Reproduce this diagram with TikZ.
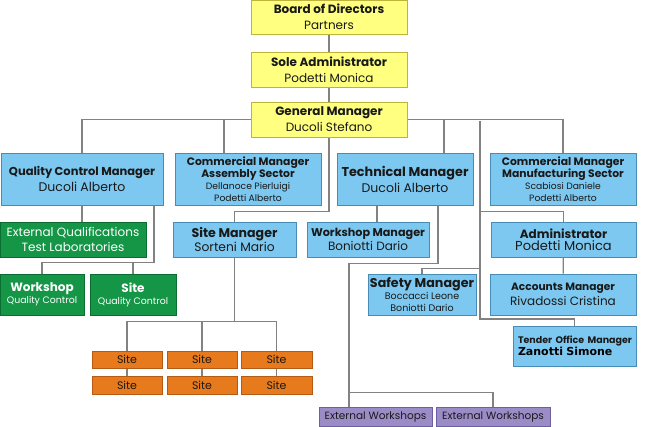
\documentclass[tikz,border=0pt]{standalone}
\usepackage{fontspec}
\setmainfont{Poppins}
\newfontfamily\zfont{DejaVu Sans}
\usetikzlibrary{backgrounds,calc}
\definecolor{ylw}{RGB}{255,255,128}
\definecolor{ylwd}{RGB}{190,180,60}
\definecolor{blu}{RGB}{124,200,240}
\definecolor{blud}{RGB}{70,140,180}
\definecolor{grn}{RGB}{20,150,70}
\definecolor{grnd}{RGB}{10,110,50}
\definecolor{org}{RGB}{232,122,30}
\definecolor{orgd}{RGB}{180,90,20}
\definecolor{prp}{RGB}{155,140,200}
\definecolor{prpd}{RGB}{110,95,160}
\definecolor{lnc}{RGB}{130,130,130}
\definecolor{txt}{RGB}{25,25,25}
\newcommand\myfs[2]{\fontsize{#1}{#2}\selectfont}
\tikzset{
 box/.style={draw, line width=0.8pt, inner sep=0pt, align=center, text=txt},
 ybox/.style={box, fill=ylw, draw=ylwd},
 bbox/.style={box, fill=blu, draw=blud},
 gbox/.style={box, fill=grn, draw=grnd, text=white},
 obox/.style={box, fill=org, draw=orgd, font=\myfs{11}{13}},
 pbox/.style={box, fill=prp, draw=prpd, font=\myfs{10.5}{12}},
 conn/.style={draw=lnc, line width=1.3pt},
}
\begin{document}
\begin{tikzpicture}[x=1pt,y=-1pt]
\useasboundingbox (0,0) rectangle (650,427);
% yellow
\node[ybox, minimum width=156, minimum height=34, font=\myfs{12}{16}] (bod) at (329,17) {\textbf{Board of Directors}\\Partners};
\node[ybox, minimum width=156, minimum height=35, font=\myfs{12}{16}] (sa) at (329,69.5) {\textbf{Sole Administrator}\\Podetti Monica};
\node[ybox, minimum width=156, minimum height=35, font=\myfs{12}{16}] (gm) at (329,119.5) {\textbf{General Manager}\\Ducoli Stefano};
% blue row 1
\node[bbox, minimum width=162, minimum height=52] (qcm) at (82,179) {{\myfs{11.5}{14}\bfseries Quality Control Manager}\\[2pt]{\myfs{12.5}{16}Ducoli Alberto}};
\node[bbox, minimum width=146, minimum height=52] (cma) at (248,179) {{\myfs{10.8}{12}\bfseries Commercial Manager}\\{\myfs{10.8}{12}\bfseries Assembly Sector}\\{\myfs{9.2}{11}Dellanoce Pierluigi}\\{\myfs{9.2}{11}Podetti Alberto}};
\node[bbox, minimum width=136, minimum height=52] (tm) at (405,179) {{\myfs{12.8}{14}\bfseries Technical Manager}\\[2pt]{\myfs{12.5}{16}Ducoli Alberto}};
\node[bbox, minimum width=146, minimum height=52] (cmm) at (563,179) {{\myfs{10.8}{12}\bfseries Commercial Manager}\\{\myfs{10.8}{12}\bfseries Manufacturing Sector}\\{\myfs{9.2}{11}Scabiosi Daniele}\\{\myfs{9.2}{11}Podetti Alberto}};
% row 2
\node[gbox, minimum width=146, minimum height=35, font=\myfs{12}{15}] (eq) at (73,239.5) {External Qualifications\\Test Laboratories};
\node[bbox, minimum width=123, minimum height=35] (sm) at (234.5,239.5) {{\myfs{12.6}{14}\bfseries Site Manager}\\{\myfs{12.3}{15}Sorteni Mario}};
\node[bbox, minimum width=122, minimum height=35] (wm) at (368,239.5) {{\myfs{11.2}{13}\bfseries Workshop Manager}\\{\myfs{12}{14}Boniotti Dario}};
\node[bbox, minimum width=145, minimum height=35] (adm) at (563.5,239.5) {{\myfs{12}{14}\bfseries Administrator}\\{\myfs{13}{15}Podetti Monica}};
% row 3
\node[gbox, minimum width=84, minimum height=41] (wqc) at (42,294.5) {{\myfs{12}{14}\bfseries Workshop}\\{\myfs{9.4}{11}Quality Control}};
\node[gbox, minimum width=86, minimum height=41] (sqc) at (133,294.5) {{\myfs{12}{14}\bfseries Site}\\{\myfs{9.4}{11}Quality Control}};
\node[bbox, minimum width=108, minimum height=41] (saf) at (422,294.5) {{\myfs{12.7}{14}\bfseries Safety Manager}\\{\myfs{9.5}{11}Boccacci Leone}\\{\myfs{9.5}{11}Boniotti Dario}};
\node[bbox, minimum width=146, minimum height=41] (acc) at (563,294.5) {{\myfs{10.6}{12}\bfseries Accounts Manager}\\[2pt]{\myfs{12}{15}Rivadossi Cristina}};
\node[bbox, minimum width=123, minimum height=40, align=left, text width=113] (tom) at (574.5,346) {\mbox{\myfs{9.5}{12}\bfseries Tender Office Manager}\\\mbox{\zfont\myfs{11}{14}\bfseries\color{black}Zanotti Simone}};
% sites
\node[obox, minimum width=70, minimum height=17] (s11) at (127,359.5) {Site};
\node[obox, minimum width=70, minimum height=17] (s12) at (202,359.5) {Site};
\node[obox, minimum width=71, minimum height=17] (s13) at (276.5,359.5) {Site};
\node[obox, minimum width=70, minimum height=18] (s21) at (127,385) {Site};
\node[obox, minimum width=70, minimum height=18] (s22) at (202,385) {Site};
\node[obox, minimum width=71, minimum height=18] (s23) at (276.5,385) {Site};
% external workshops
\node[pbox, minimum width=113, minimum height=19] (ew1) at (375.5,416.5) {External Workshops};
\node[pbox, minimum width=114, minimum height=19] (ew2) at (493,416.5) {External Workshops};
% connectors
\begin{pgfonlayer}{background}
\coordinate (spT) at (480,121);
\coordinate (spB) at (480,319);
\draw[conn] (bod) -- (sa);
\draw[conn] (sa) -- (gm);
\draw[conn] (qcm.north) |- (gm.west);
\draw[conn] ([xshift=-24]cma.north) |- (gm.west);
\draw[conn] (gm.east) -| (cmm.north);
\draw[conn] ([xshift=39]tm.north) |- (gm.east);
\draw[conn] (spT) -- (spB) -| (tom.north);
\draw[conn] (adm.north) -- ++(0,-10) -| (spT);
\draw[conn] (saf.north) -- ++(0,-5) -| (spT);
\draw[conn] (adm) -- (acc);
\draw[conn] (gm.south) |- ([yshift=10]sm.north) -- (sm.north);
\draw[conn] (qcm.south) -- (qcm.south |- eq.north);
\draw[conn] ([xshift=72]qcm.south) |- ([yshift=11]wqc.north) -- (wqc.north);
\draw[conn] ([yshift=11]sqc.north) -- (sqc.north);
\draw[conn] ([xshift=9]wm.north) -- ([xshift=9]wm.north |- tm.south);
\draw[conn] ([xshift=33]tm.south) -- ++(0,58) -| ([xshift=-26.5]ew1.north);
\draw[conn] ([xshift=-26.5]ew1.north) -- ++(0,-14) -| (ew2.north);
\draw[conn] (sm.south) -- ++(0,65);
\draw[conn] (s11.north) -- ++(0,-29) -| (s13.north);
\draw[conn] (s12.north) -- ++(0,-29);
\draw[conn] (s11) -- (s21);
\draw[conn] (s12) -- (s22);
\draw[conn] (s13) -- (s23);
\end{pgfonlayer}
\end{tikzpicture}
\end{document}
